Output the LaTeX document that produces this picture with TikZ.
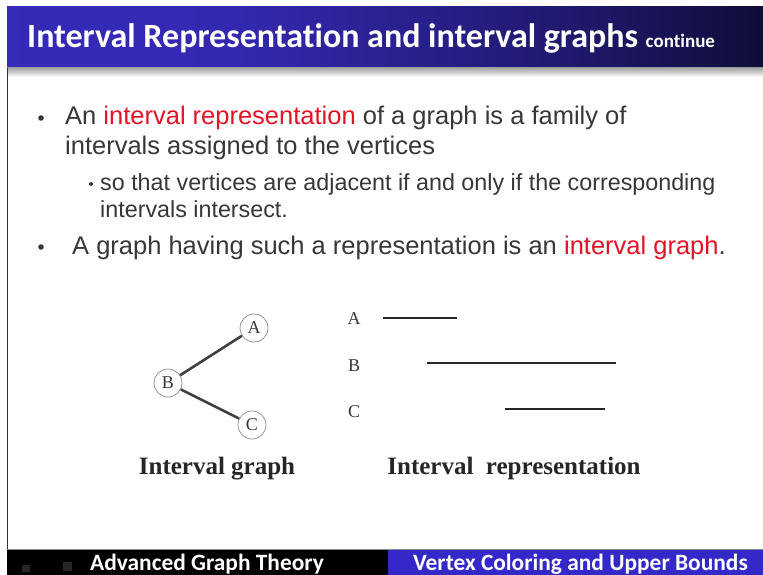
\documentclass[tikz,border=0pt]{standalone}
\usepackage{fontspec}
\setmainfont{Liberation Serif}
\newfontfamily\bodyfont{Liberation Sans}
\newfontfamily\titlefont[Ligatures=NoCommon]{Carlito}
\usepackage{xcolor}
\definecolor{titleblue}{RGB}{58,46,200}
\definecolor{footblue}{RGB}{52,40,200}
\definecolor{hilite}{RGB}{228,18,38}
\definecolor{bodygray}{RGB}{55,55,55}
\definecolor{ringgray}{RGB}{150,150,150}
\usepackage{tikz}
\usetikzlibrary{positioning}
\pgfdeclarehorizontalshading{titlebar}{100bp}{
    color(0bp)=(titleblue); color(40bp)=(titleblue!88!black);
    color(62bp)=(titleblue!55!black); color(80bp)=(titleblue!18!black); color(100bp)=(black)}

\begin{document}
\begin{tikzpicture}[
        x=1pt, y=-1pt,
        line/.style={anchor=base west, inner sep=0pt, text=bodygray, font=\bodyfont\fontsize{25.5}{30}\selectfont},
        subline/.style={line, font=\bodyfont\fontsize{23.3}{27}\selectfont},
        vertex/.style={circle, draw=ringgray, fill=white, thick, minimum size=28pt, inner sep=0pt, text=bodygray, font=\fontsize{18}{18}\selectfont},
        edge/.style={line width=2.6pt, color=black!75},
        interval/.style={line width=2.6pt, color=black!85},
        caption/.style={anchor=base, inner sep=0pt, text=black!85, font=\bfseries\fontsize{25}{25}\selectfont},
        letter/.style={inner sep=0pt, text=bodygray, font=\fontsize{18}{18}\selectfont},
        foot/.style={inner sep=0pt, text=white, font=\titlefont\bfseries\fontsize{23.4}{23.4}\selectfont}
    ]
        \useasboundingbox (0,0) rectangle (763,575);
        \fill[white] (0,0) rectangle (763,575);

        % title bar
        \shade[shading=titlebar] (7,7) rectangle (763,68);
        \shade[top color=black!35, bottom color=white] (7,68) rectangle (763,77);
        \draw[black!80, line width=1.2pt] (7.5,68) -- (7.5,550);
        \node[anchor=base west, inner sep=0pt, text=white, font=\titlefont\bfseries\fontsize{34}{34}\selectfont] (title) at (27,48)
            {Interval Representation and interval graphs {\fontsize{19}{19}\selectfont continue}};

        % bullets
        \fill[bodygray] (41,118) circle (2.8);
        \node[line] (l1) at (65,125) {An \textcolor{hilite}{interval representation} of a graph is a family of};
        \node[line] (l2) at (65,154) {intervals assigned to the vertices};
        \fill[bodygray] (91,184) circle (2);
        \node[subline] (s1) at (100,190) {so that vertices are adjacent if and only if the corresponding};
        \node[subline] (s2) at (100,217) {intervals intersect.};
        \fill[bodygray] (41,247) circle (2.8);
        \node[line] (l3) at (72,254) {A graph having such a representation is an \textcolor{hilite}{interval graph}.};

        % interval graph
        \node[vertex] (A) at (254,328) {A};
        \node[vertex] (B) at (168,383) {B};
        \node[vertex] (C) at (252,425) {C};
        \draw[edge] (B) -- (A);
        \draw[edge] (B) -- (C);
        \node[caption] (cap1) at (217,474) {Interval graph};

        % interval representation
        \node[letter] (ia) at (354,319) {A};
        \node[letter] (ib) at (354,366) {B};
        \node[letter] (ic) at (354,412) {C};
        \draw[interval] (383,318) -- (457,318);
        \draw[interval] (427,363) -- (616,363);
        \draw[interval] (505,409) -- (605,409);
        \node[caption] (cap2) at (514,474) {Interval\ \ representation};

        % footer
        \draw[black!45, line width=1pt] (7,549) -- (763,549);
        \fill[black] (7,550) rectangle (388,575);
        \fill[footblue] (388,550) rectangle (763,575);
        \fill[black!85] (22,565) rectangle (30,572);
        \fill[black!85] (63,562) rectangle (72,571);
        \node[foot, anchor=base west] (foot1) at (90,570) {Advanced Graph Theory};
        \node[foot, anchor=base east] (foot2) at (748,570) {Vertex Coloring and Upper Bounds};
    \end{tikzpicture}
\end{document}
